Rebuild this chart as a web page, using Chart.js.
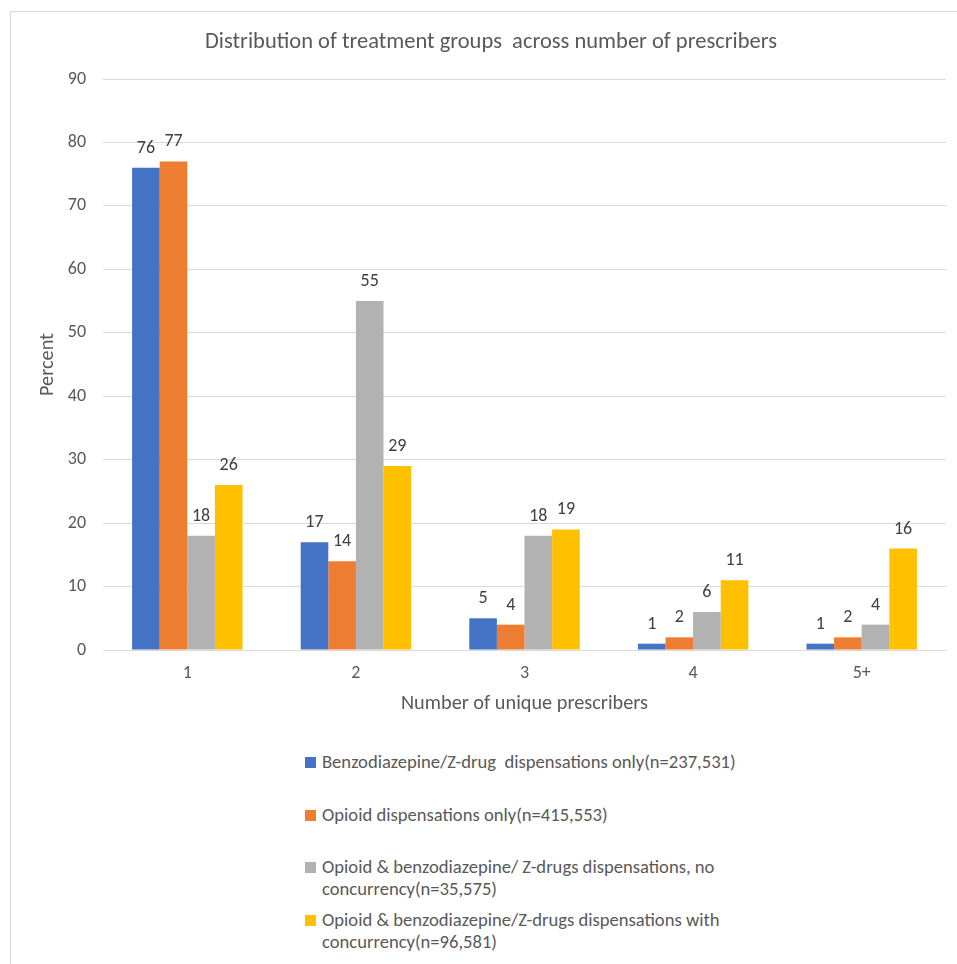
<!DOCTYPE html>
<html>
<head>
<meta charset="utf-8">
<script src="https://cdn.jsdelivr.net/npm/chart.js@4.4.0/dist/chart.umd.min.js"></script>
<style>
    body { margin: 0; background: #fff; font-family: Calibri, Carlito, "Liberation Sans", Arial, sans-serif; }
    .frame { position: absolute; left: 10px; top: 11px; width: 960px; height: 970px; border: 1px solid #d9d9d9; box-sizing: border-box; }
    .chart-box { position: absolute; left: 0; top: 0; width: 935px; height: 720px; }
    #legend { position: absolute; left: 294px; top: 739px; width: 445px; color: #595959; font-size: 18.6px; line-height: 22px; }
    .item { position: relative; padding-left: 17px; min-height: 52.5px; }
    .item span.box { position: absolute; left: 0; top: 6px; width: 11px; height: 11px; }
</style>
</head>
<body>
<div class="frame">
    <div class="chart-box"><canvas id="chart"></canvas></div>
    <div id="legend"></div>
</div>
<script>
// Data
const categories = ['1', '2', '3', '4', '5+'];
const seriesNames = [
    'Benzodiazepine/Z-drug\u00a0 dispensations only(n=237,531)',
    'Opioid dispensations only(n=415,553)',
    'Opioid & benzodiazepine/ Z-drugs dispensations, no concurrency(n=35,575)',
    'Opioid & benzodiazepine/Z-drugs dispensations with concurrency(n=96,581)'
];
const benzoOnly = [76, 17, 5, 1, 1];
const opioidOnly = [77, 14, 4, 2, 2];
const bothNoConcurrency = [18, 55, 18, 6, 4];
const bothConcurrency = [26, 29, 19, 11, 16];
const yTicks = [0, 10, 20, 30, 40, 50, 60, 70, 80, 90];
const colors = ['#4472c4', '#ed7d31', '#b2b2b2', '#ffc000'];

const seriesValues = [benzoOnly, opioidOnly, bothNoConcurrency, bothConcurrency];
const FONT = 'Calibri, Carlito, "Liberation Sans", Arial, sans-serif';

// Draw value labels above each bar
const valueLabels = {
    id: 'valueLabels',
    afterDatasetsDraw(chart) {
        const ctx = chart.ctx;
        ctx.save();
        ctx.font = '18px ' + FONT;
        ctx.fillStyle = '#404040';
        ctx.textAlign = 'center';
        ctx.textBaseline = 'middle';
        chart.data.datasets.forEach((ds, i) => {
            chart.getDatasetMeta(i).data.forEach((bar, j) => {
                ctx.fillText(ds.data[j], bar.x, bar.y - 19.5);
            });
        });
        ctx.restore();
    }
};

const chart = new Chart(document.getElementById('chart').getContext('2d'), {
    type: 'bar',
    data: {
        labels: categories,
        datasets: seriesValues.map((vals, i) => ({
            label: seriesNames[i],
            data: vals,
            backgroundColor: colors[i],
            borderWidth: 0,
            categoryPercentage: 0.655,
            barPercentage: 1.0
        }))
    },
    options: {
        responsive: true,
        maintainAspectRatio: false,
        animation: false,
        layout: { padding: { left: 25, right: 0, top: 0, bottom: 16 } },
        scales: {
            x: {
                grid: { display: false, drawTicks: false },
                border: { color: '#d9d9d9', width: 1 },
                ticks: { color: '#595959', font: { family: FONT, size: 18 }, padding: 13 },
                title: {
                    display: true,
                    text: 'Number of unique prescribers',
                    color: '#595959',
                    font: { family: FONT, size: 20.3 },
                    padding: { top: -6, bottom: 0 }
                }
            },
            y: {
                min: 0,
                max: 90,
                afterBuildTicks: axis => { axis.ticks = yTicks.map(v => ({ value: v })); },
                grid: { color: '#d9d9d9', drawTicks: false },
                border: { display: false },
                ticks: { color: '#595959', font: { family: FONT, size: 18 }, padding: 17 },
                title: {
                    display: true,
                    text: 'Percent',
                    color: '#595959',
                    font: { family: FONT, size: 20.3 },
                    padding: { top: 0, bottom: -9.6 }
                }
            }
        },
        plugins: {
            legend: { display: false },
            tooltip: { enabled: false },
            title: {
                display: true,
                text: 'Distribution of treatment groups  across number of prescribers',
                color: '#595959',
                font: { family: FONT, size: 22.5, weight: 'normal' },
                padding: { top: 17, bottom: 23 }
            }
        }
    },
    plugins: [valueLabels]
});

// HTML legend built from the series arrays
const legendEl = document.getElementById('legend');
seriesNames.forEach((name, i) => {
    const item = document.createElement('div');
    item.className = 'item';
    const box = document.createElement('span');
    box.className = 'box';
    box.style.background = colors[i];
    item.appendChild(box);
    item.appendChild(document.createTextNode(name));
    legendEl.appendChild(item);
});
</script>
</body>
</html>
